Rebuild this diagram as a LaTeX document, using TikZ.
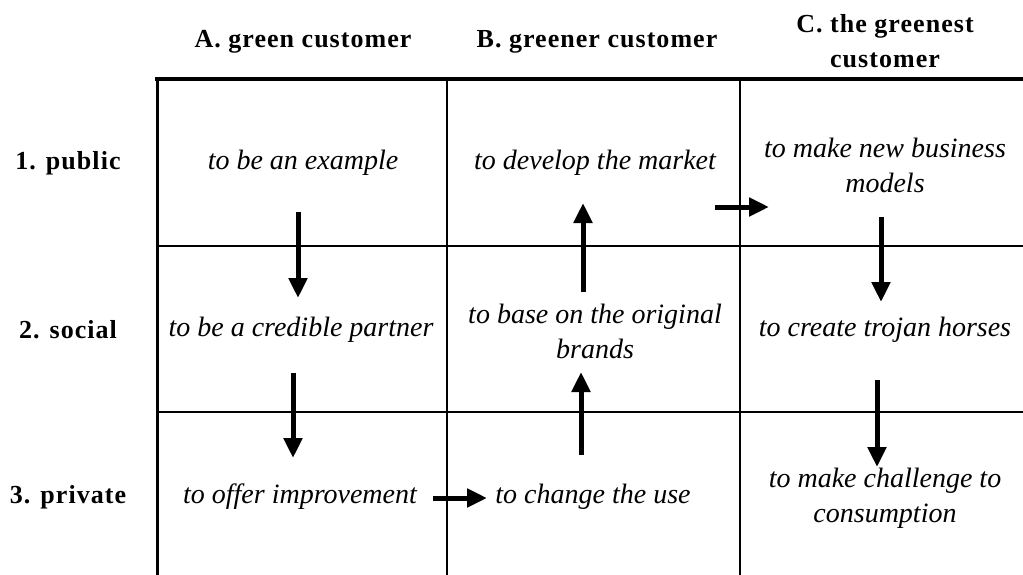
\documentclass[tikz,border=0pt]{standalone}
\usepackage{fontspec}
\setmainfont{Liberation Serif}
\newfontfamily\headfont[LetterSpace=4]{Liberation Serif}
\usetikzlibrary{arrows.meta}
\begin{document}
\begin{tikzpicture}[x=1pt,y=-1pt,
  head/.style={font=\headfont\bfseries\fontsize{26}{35}\selectfont, align=center, inner sep=0pt},
  rowlab/.style={font=\headfont\bfseries\fontsize{26}{35}\selectfont, inner sep=0pt},
  cell/.style={font=\itshape\fontsize{28}{35}\selectfont, align=center, inner sep=0pt},
  thickrule/.style={line width=4pt},
  thinrule/.style={line width=1.5pt},
  flow/.style={line width=5pt, -{Triangle[length=20pt,width=18pt]}}]
\useasboundingbox (0,0) rectangle (1023,575);

% grid
\draw[thinrule] (447,79) -- (447,575);
\draw[thinrule] (740,79) -- (740,575);
\draw[thinrule] (157,246) -- (1023,246);
\draw[thinrule] (157,412) -- (1023,412);
\draw[thickrule] (155,79) -- (1023,79);
\draw[line width=3pt] (157,77) -- (157,575);

% column headings
\node[head] (hA) at (303,42) {A. green customer};
\node[head] (hB) at (597,42) {B. greener customer};
\node[head] (hC) at (885,41) {C. the greenest\\customer};

% row headings
\node[rowlab] (r1) at (68,163) {1. public};
\node[rowlab] (r2) at (68,330) {2. social};
\node[rowlab] (r3) at (68,497) {3. private};

% cells
\node[cell] (a1) at (303,163) {to be an example};
\node[cell] (b1) at (595,163) {to develop the market};
\node[cell] (c1) at (885,165) {to make new business\\models};
\node[cell] (a2) at (301,330) {to be a credible partner};
\node[cell] (b2) at (595,331) {to base on the original\\brands};
\node[cell] (c2) at (885,330) {to create trojan horses};
\node[cell] (a3) at (300,497) {to offer improvement};
\node[cell] (b3) at (593,497) {to change the use};
\node[cell] (c3) at (885,498) {to make challenge to\\consumption};

% arrow end points
\coordinate (a1s) at (298,212); \coordinate (a1e) at (298,298);
\coordinate (a2s) at (293,373); \coordinate (a2e) at (293,458);
\coordinate (b3s) at (581,455); \coordinate (b3e) at (581,372);
\coordinate (b2s) at (583,292); \coordinate (b2e) at (583,203);
\coordinate (c1s) at (881,217); \coordinate (c1e) at (881,302);
\coordinate (c2s) at (877,380); \coordinate (c2e) at (877,467);
\coordinate (abs) at (433,498); \coordinate (abe) at (487,498);
\coordinate (bcs) at (715,207); \coordinate (bce) at (769,207);

% flow arrows
\draw[flow] (a1s) -- (a1e);
\draw[flow] (a2s) -- (a2e);
\draw[flow] (abs) -- (abe);
\draw[flow] (b3s) -- (b3e);
\draw[flow] (b2s) -- (b2e);
\draw[flow] (bcs) -- (bce);
\draw[flow] (c1s) -- (c1e);
\draw[flow] (c2s) -- (c2e);
\end{tikzpicture}
\end{document}
